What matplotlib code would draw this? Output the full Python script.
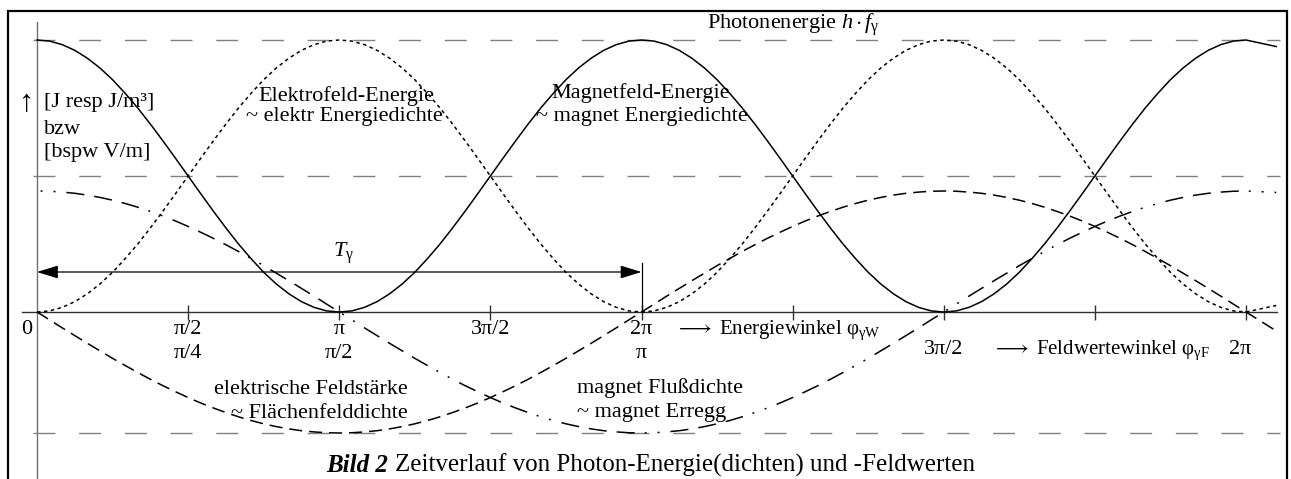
import numpy as np
import matplotlib.pyplot as plt
from matplotlib.patches import Rectangle

plt.rcParams['font.family'] = ['Liberation Serif', 'DejaVu Serif']
plt.rcParams['mathtext.fontset'] = 'custom'
plt.rcParams['mathtext.rm'] = 'Liberation Serif'
plt.rcParams['mathtext.it'] = 'Liberation Serif:italic'
plt.rcParams['mathtext.bf'] = 'Liberation Serif:bold'
plt.rcParams['lines.scale_dashes'] = False

# --- data (x in multiples of pi, energy angle phi_W; step pi/24, last point 4.1 pi) ---
phi_w = np.append(np.arange(97) / 24, 4.1)

# energies, normalised to photon energy h*f
magnet_energy = [1.000, .996, .983, .962, .933, .897, .854, .804, .750, .691, .629, .565, .500,
                 .435, .371, .309, .250, .196, .146, .103, .067, .038, .017, .004, .000,
                 .004, .017, .038, .067, .103, .146, .196, .250, .309, .371, .435, .500,
                 .565, .629, .691, .750, .804, .854, .897, .933, .962, .983, .996, 1.000,
                 .996, .983, .962, .933, .897, .854, .804, .750, .691, .629, .565, .500,
                 .435, .371, .309, .250, .196, .146, .103, .067, .038, .017, .004, .000,
                 .004, .017, .038, .067, .103, .146, .196, .250, .309, .371, .435, .500,
                 .565, .629, .691, .750, .804, .854, .897, .933, .962, .983, .996, 1.000,
                 .976]
elektro_energy = [.000, .004, .017, .038, .067, .103, .146, .196, .250, .309, .371, .435, .500,
                  .565, .629, .691, .750, .804, .854, .897, .933, .962, .983, .996, 1.000,
                  .996, .983, .962, .933, .897, .854, .804, .750, .691, .629, .565, .500,
                  .435, .371, .309, .250, .196, .146, .103, .067, .038, .017, .004, .000,
                  .004, .017, .038, .067, .103, .146, .196, .250, .309, .371, .435, .500,
                  .565, .629, .691, .750, .804, .854, .897, .933, .962, .983, .996, 1.000,
                  .996, .983, .962, .933, .897, .854, .804, .750, .691, .629, .565, .500,
                  .435, .371, .309, .250, .196, .146, .103, .067, .038, .017, .004, .000,
                  .024]

# field values, normalised to field amplitude
flussdichte = [1.000, .998, .991, .981, .966, .947, .924, .897, .866, .831, .793, .752, .707,
               .659, .609, .556, .500, .442, .383, .321, .259, .195, .131, .065, .000,
               -.065, -.131, -.195, -.259, -.321, -.383, -.442, -.500, -.556, -.609, -.659, -.707,
               -.752, -.793, -.831, -.866, -.897, -.924, -.947, -.966, -.981, -.991, -.998, -1.000,
               -.998, -.991, -.981, -.966, -.947, -.924, -.897, -.866, -.831, -.793, -.752, -.707,
               -.659, -.609, -.556, -.500, -.442, -.383, -.321, -.259, -.195, -.131, -.065, .000,
               .065, .131, .195, .259, .321, .383, .442, .500, .556, .609, .659, .707,
               .752, .793, .831, .866, .897, .924, .947, .966, .981, .991, .998, 1.000,
               .988]
feldstaerke = [.000, -.065, -.131, -.195, -.259, -.321, -.383, -.442, -.500, -.556, -.609, -.659, -.707,
               -.752, -.793, -.831, -.866, -.897, -.924, -.947, -.966, -.981, -.991, -.998, -1.000,
               -.998, -.991, -.981, -.966, -.947, -.924, -.897, -.866, -.831, -.793, -.752, -.707,
               -.659, -.609, -.556, -.500, -.442, -.383, -.321, -.259, -.195, -.131, -.065, .000,
               .065, .131, .195, .259, .321, .383, .442, .500, .556, .609, .659, .707,
               .752, .793, .831, .866, .897, .924, .947, .966, .981, .991, .998, 1.000,
               .998, .991, .981, .966, .947, .924, .897, .866, .831, .793, .752, .707,
               .659, .609, .556, .500, .442, .383, .321, .259, .195, .131, .065, .000,
               -.156]

energy_levels = [1.0, 0.5]      # photon energy and half of it
field_level = -1.0              # field amplitude (bottom line)
period_T = [0, 2]               # T_gamma in energy angle (x pi)

energy_ticks = [0.5, 1, 1.5, 2, 2.5, 3, 3.5, 4]
energy_labels = ['π/2', 'π', '3π/2', '2π']
field_labels_near = ['π/4', 'π/2', '', 'π']
field_ticks_far = [3, 4]
field_labels_far = ['3π/2', '2π']

# --- layout: pixel mapping of the reference ---
X0, PX_PI = 37, 302.25
Y0, PX_E = 312, 272
PX_F = 121
W, H = 1291, 479


def at(px, py):
    return (px - X0) / PX_PI, (Y0 - py) / PX_E


fig = plt.figure(figsize=(W / 100, H / 100), dpi=100)
ax = fig.add_axes([0, 0, 1, 1])
ax.set_xlim(-X0 / PX_PI, (W - X0) / PX_PI)
ax.set_ylim(-(H - Y0) / PX_E, Y0 / PX_E)
ax.axis('off')

ax2 = ax.twinx()
ax2.set_ylim(-(H - Y0) / PX_F, Y0 / PX_F)
ax2.set_position([0, 0, 1, 1])
ax2.axis('off')

gray = '#808080'
fs = 16
fs_ang = 15
fs_cap = 18

# reference lines
x_ref = [-4 / PX_PI, (1280 - X0) / PX_PI]
for lev in energy_levels:
    ax.plot(x_ref, [lev, lev], color=gray, lw=1.0, linestyle=(0, (15.8, 17.1)))
ax2.plot(x_ref, [field_level, field_level], color=gray, lw=1.0, linestyle=(0, (15.8, 17.1)))

# axes
ax.plot([0, 0], [at(0, 479)[1], at(0, 22)[1]], color='#707070', lw=1.0)
ax.plot([at(22, 0)[0], at(1277, 0)[0]], [0, 0], color='#303030', lw=1.0)
ax.vlines(energy_ticks, at(0, 320)[1], at(0, 305)[1], color='#303030', lw=1.0)

# curves
ax.plot(phi_w, magnet_energy, color='black', lw=1.1)
ax.plot(phi_w, elektro_energy, color='black', lw=1.1, linestyle=(0, (2.5, 2.5)))
ax2.plot(phi_w, feldstaerke, color='black', lw=1.1, linestyle=(0, (9.4, 5.0)))
ax2.plot(phi_w, flussdichte, color='black', lw=1.1,
         linestyle=(58, (13, 7.2, 13, 7.2, 13, 7.2, 1.4, 7.9, 1.4, 7.9)))

# period arrow
yT = at(0, 272)[1]
ax.annotate('', xy=(period_T[0], yT), xytext=(period_T[1], yT),
            arrowprops=dict(arrowstyle='<|-|>,head_length=0.65,head_width=0.2',
                            mutation_scale=20, color='black', lw=0.9,
                            shrinkA=0, shrinkB=0))
ax.plot([period_T[1], period_T[1]], [0, at(0, 263)[1]], color='black', lw=0.9)
ax.text(*at(343, 253), r'$T_{\mathrm{\gamma}}$', fontsize=fs, ha='center', va='center')

# tick labels
ax.text(*at(27, 330), '0', fontsize=fs, ha='center', va='center')
y1, y2, y3 = at(0, 330)[1], at(0, 353)[1], at(0, 350)[1]
for t, lab in zip(energy_ticks, energy_labels):
    ax.text(t, y1, lab, fontsize=fs, ha='center', va='center')
for t, lab in zip(energy_ticks, field_labels_near):
    ax.text(t, y2, lab, fontsize=fs, ha='center', va='center')
for t, lab in zip(field_ticks_far, field_labels_far):
    ax.text(t - 0.02 * (t == 4), y3, lab, fontsize=fs, ha='center', va='center')
ax.text(*at(675, 330), r'$\longrightarrow$ Energiewinkel $\mathrm{\varphi}_{\mathrm{\gamma W}}$',
        fontsize=fs_ang, ha='left', va='center')
ax.text(*at(992, 350), r'$\longrightarrow$ Feldwertewinkel $\mathrm{\varphi}_{\mathrm{\gamma F}}$',
        fontsize=fs_ang, ha='left', va='center')

# y-axis unit text
ax.text(*at(27, 103), '↑', fontsize=fs + 6, ha='center', va='center')
ax.text(*at(44, 103), '[J resp J/m³]', fontsize=fs, ha='left', va='center')
ax.text(*at(44, 129), 'bzw', fontsize=fs, ha='left', va='center')
ax.text(*at(44, 153), '[bspw V/m]', fontsize=fs, ha='left', va='center')

# curve labels
ax.text(*at(346, 96), 'Elektrofeld-Energie', fontsize=fs, ha='center', va='center')
ax.text(*at(344, 116), '~ elektr Energiedichte', fontsize=fs, ha='center', va='center')
ax.text(*at(641, 93), 'Magnetfeld-Energie', fontsize=fs, ha='center', va='center')
ax.text(*at(642, 116), '~ magnet Energiedichte', fontsize=fs, ha='center', va='center')
ax.text(*at(707, 25), r'Photonenergie $h\cdot f_{\mathrm{\gamma}}$', fontsize=fs,
        ha='left', va='center')
ax.text(*at(408, 390), 'elektrische Feldstärke', fontsize=fs, ha='right', va='center')
ax.text(*at(408, 413), '~ Flächenfelddichte', fontsize=fs, ha='right', va='center')
ax.text(*at(577, 388), 'magnet Flußdichte', fontsize=fs, ha='left', va='center')
ax.text(*at(577, 412), '~ magnet Erregg', fontsize=fs, ha='left', va='center')

# caption
t1 = ax.text(*at(326, 465), 'Bild 2', fontsize=fs_cap, fontweight='bold',
             style='italic', ha='left', va='center')
ax.annotate('Zeitverlauf von Photon-Energie(dichten) und -Feldwerten', xy=(1, 0.5),
            xycoords=t1, xytext=(5, 0), textcoords='offset points',
            fontsize=fs_cap, ha='left', va='center')

# frame
fig.patches.append(Rectangle((8 / W, -0.05), (1287 - 8) / W, 1 - 11 / H + 0.05,
                             transform=fig.transFigure, fill=False,
                             edgecolor='black', lw=1.6))

fig.savefig('out.png', dpi=100)
